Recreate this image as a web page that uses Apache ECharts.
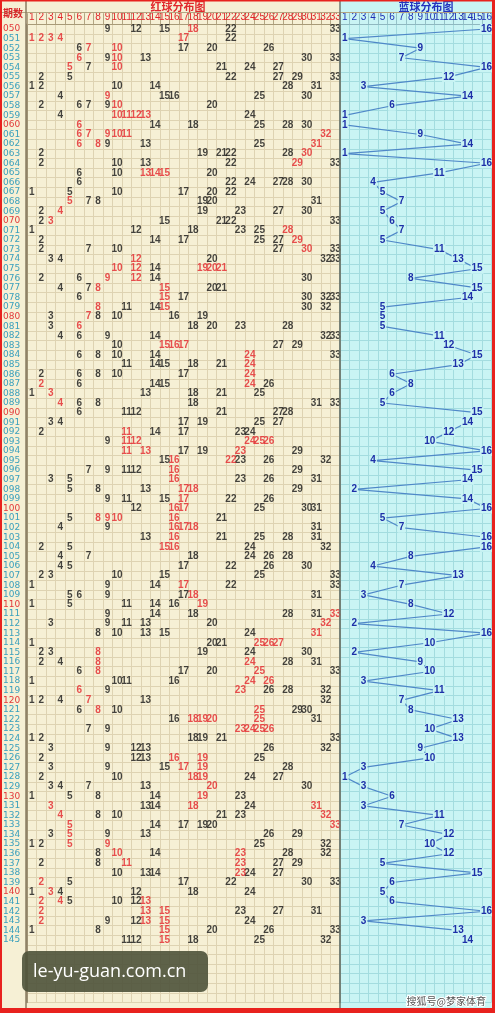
<!DOCTYPE html>
<html><head><meta charset="utf-8">
<script src="https://cdn.jsdelivr.net/npm/echarts@6/dist/echarts.min.js"></script>
<style>html,body{margin:0;padding:0;background:#f6f0d5}#c{width:495px;height:1013px}</style>
</head><body><div id="c"></div><script>
const periods = ['050','051','052','053','054','055','056','057','058','059','060','061','062','063','064','065','066','067','068','069','070','071','072','073','074','075','076','077','078','079','080','081','082','083','084','085','086','087','088','089','090','091','092','093','094','095','096','097','098','099','100','101','102','103','104','105','106','107','108','109','110','111','112','113','114','115','116','117','118','119','120','121','122','123','124','125','126','127','128','129','130','131','132','133','134','135','136','137','138','139','140','141','142','143','144','145'];
const redCols = ['1','2','3','4','5','6','7','8','9','10','11','12','13','14','15','16','17','18','19','20','21','22','23','24','25','26','27','28','29','30','31','32','33'];
const blueCols = ['1','2','3','4','5','6','7','8','9','10','11','12','13','14','15','16'];
const redBalls = [
[9,12,15,18,22,33],[1,2,3,4,17,22],[6,7,10,17,20,26],[6,9,10,13,30,33],[5,7,10,21,24,27],
[2,5,22,27,29,33],[1,2,10,14,28,31],[4,9,15,16,25,30],[2,6,7,9,10,20],[4,10,11,12,13,24],
[6,14,18,25,28,30],[6,7,9,10,11,32],[6,8,9,13,25,31],[2,19,21,22,28,30],[2,10,13,22,29,33],
[6,10,13,14,15,20],[6,22,24,27,28,30],[1,5,10,17,20,22],[5,7,8,19,20,31],[2,4,19,23,27,30],
[2,3,15,21,22,33],[1,12,18,23,25,28],[2,14,17,25,27,29],[2,7,10,27,30,33],[3,4,12,20,32,33],
[10,12,14,19,20,21],[2,6,9,12,14,30],[4,7,8,15,20,21],[6,15,17,30,32,33],[8,11,14,15,30,32],
[3,7,8,10,16,19],[3,6,18,20,23,28],[4,6,9,14,32,33],[10,15,16,17,27,29],[6,8,10,14,24,33],
[11,14,15,18,21,24],[2,6,8,10,17,24],[2,6,14,15,24,26],[1,3,13,18,21,25],[4,6,8,18,31,33],
[6,11,12,21,27,28],[3,4,17,19,25,27],[2,11,14,17,23,24],[9,11,12,24,25,26],[11,13,17,19,23,29],
[15,16,22,23,26,32],[7,9,11,12,16,29],[3,5,16,23,26,31],[5,8,13,17,18,29],[9,11,15,17,22,26],
[12,16,17,25,30,31],[5,8,9,10,16,21],[4,9,16,17,18,31],[13,16,21,25,28,31],[2,5,15,16,24,32],
[4,7,18,24,26,28],[4,5,17,22,26,30],[2,3,10,15,25,33],[1,9,14,17,22,33],[5,6,9,17,18,31],
[1,5,11,14,16,19],[9,14,18,28,31,33],[3,9,11,13,20,32],[8,10,13,15,24,31],[1,20,21,25,26,27],
[2,3,8,19,24,30],[2,4,8,24,28,31],[6,8,17,20,25,33],[1,10,11,16,24,26],[6,9,23,26,28,32],
[1,2,4,7,13,32],[6,8,10,25,29,30],[16,18,19,20,25,31],[7,9,23,24,25,26],[1,2,18,19,21,33],
[3,9,12,13,26,32],[2,12,13,16,19,25],[3,9,15,17,19,28],[2,10,18,19,24,27],[3,4,7,13,20,30],
[1,5,8,14,19,23],[3,13,14,18,24,31],[4,8,10,21,23,32],[5,14,17,19,20,33],[3,5,9,13,26,29],
[1,2,5,9,25,32],[8,10,14,23,28,32],[2,8,11,23,27,29],[10,13,14,23,24,27],[2,5,17,22,30,33],
[1,3,4,12,18,24],[2,4,5,10,12,13],[2,13,15,23,27,31],[2,9,12,13,15,24],[1,8,15,20,26,33],
[11,12,15,18,25,32]];
const redMarked = [
[18],[1,2,3,4,17],[7,10],[6,10],[5,10],
[],[],[9],[10],[10,11,12,13],
[6],[6,7,9,10,11,32],[6,8,31],[30],[29],
[13,14,15],[],[],[5],[4],
[3],[28],[29],[30],[12],
[10,12,19,20,21],[9,12],[8,15],[15],[8,15],
[7],[6],[],[15,16,17],[24],
[24],[24],[2,24],[3],[4],
[],[],[11],[11,12,24,25,26],[11,13,23],
[16,22],[16],[16],[17,18],[17],
[16,17],[8,9,10,16],[16,17,18],[16],[15,16],
[],[],[],[17],[18],
[19],[33],[32],[31],[25,26,27],
[8],[8,24],[8,25],[24,26],[6,23],
[7],[8,25],[18,19,20,25],[23,24,25,26],[],
[],[16,19],[17,19],[18,19],[20],
[19],[3,18,31],[4,32],[5,33],[5],
[5,9],[10,23],[11,23],[23],[2],
[3],[2,4,13],[2,13,15],[2,13,15],[15],
[15]];
const blueBalls = [16,1,9,7,16,12,3,14,6,1, 1,9,14,1,16,11,4,5,7,5, 6,7,5,11,13,15,8,15,14,5,
 5,5,11,12,15,13,6,8,6,5, 15,14,12,10,16,4,15,14,2,14, 16,5,7,16,16,8,4,13,7,3,
 8,12,2,16,10,2,9,10,3,11, 7,8,13,10,13,9,10,3,1,3, 6,3,11,7,12,10,12,5,15,6, 5,6,16,3,13,14];

const PAD = 6;
const rowCats = periods.slice();
for (let i = 0; i < PAD; i++) rowCats.push(' '.repeat(i + 1));
const ROWH = 9.59, TOP = 24.2;
const GH = rowCats.length * ROWH;

const blackPts = [], redPts = [];
redBalls.forEach((row, i) => row.forEach(n => {
  const it = { value: [n - 1, i], name: String(n) };
  (redMarked[i].indexOf(n) >= 0 ? redPts : blackPts).push(it);
}));
const bluePts = blueBalls.map((b, i) => ({ value: [b - 1, i], name: String(b) }));

const numFont = '"Liberation Sans Narrow", "Liberation Sans", Arial, sans-serif';
const scatterBase = (data, color) => ({
  type: 'scatter', xAxisIndex: 0, yAxisIndex: 0, data: data,
  symbolSize: 1, itemStyle: { color: 'rgba(0,0,0,0)' }, silent: true,
  label: { show: true, position: 'inside', formatter: '{b}', color: color, fontSize: 10,
    fontFamily: numFont, fontWeight: 'bold' },
  emphasis: { disabled: true }
});

const chart = echarts.init(document.getElementById('c'), null, { renderer: 'canvas' });
chart.setOption({
  animation: false,
  backgroundColor: '#f6f0d5',
  grid: [
    { left: 26.5, top: TOP, width: 313.5, height: GH, show: false },
    { left: 340, top: TOP, width: 153.5, height: GH, show: false }
  ],
  xAxis: [
    { type: 'category', gridIndex: 0, position: 'top', data: redCols, boundaryGap: true,
      axisLine: { show: true, lineStyle: { color: '#a89a78', width: 1 } },
      axisTick: { show: true, interval: 0, length: 11, lineStyle: { color: '#b3a582' } },
      axisLabel: { interval: 0, margin: 1.5, color: '#e2262a', fontSize: 10, fontFamily: numFont },
      splitLine: { show: true, interval: 0, lineStyle: { color: '#ded3b2', width: 1 } } },
    { type: 'category', gridIndex: 1, position: 'top', data: blueCols, boundaryGap: true,
      axisLine: { show: true, lineStyle: { color: '#8fb8c0', width: 1 } },
      axisTick: { show: true, interval: 0, length: 11, lineStyle: { color: '#94c2c8' } },
      axisLabel: { interval: 0, margin: 1.5, color: '#1e2fb4', fontSize: 10, fontFamily: numFont },
      splitLine: { show: true, interval: 0, lineStyle: { color: '#a3dcdf', width: 1 } } }
  ],
  yAxis: [
    { type: 'category', gridIndex: 0, data: rowCats, inverse: true, boundaryGap: true,
      axisLine: { show: true, lineStyle: { color: '#8a7c60', width: 1.5 } },
      axisTick: { show: false },
      axisLabel: { interval: 0, align: 'left', margin: 24, fontSize: 9, fontFamily: '"DejaVu Sans"',
        color: (v, i) => (i % 10 === 0 ? '#e23a3a' : '#3aa0bd') },
      splitLine: { show: true, interval: 0, lineStyle: { color: '#ded3b2', width: 1 } } },
    { type: 'category', gridIndex: 1, data: rowCats, inverse: true, boundaryGap: true,
      axisLine: { show: true, lineStyle: { color: '#6f7a70', width: 1.5 } },
      axisTick: { show: false }, axisLabel: { show: false },
      splitLine: { show: true, interval: 0, lineStyle: { color: '#a3dcdf', width: 1 } } }
  ],
  series: [
    scatterBase(blackPts, '#161616'),
    scatterBase(redPts, '#e3262b'),
    { type: 'line', xAxisIndex: 1, yAxisIndex: 1, data: bluePts, silent: true,
      symbol: 'circle', symbolSize: 1, itemStyle: { color: 'rgba(0,0,0,0)' },
      lineStyle: { color: '#4f88c8', width: 1.2 },
      label: { show: true, position: 'inside', formatter: '{b}', color: '#1d2fa8', fontSize: 10,
        fontFamily: numFont, fontWeight: 'bold', backgroundColor: '#c9f4f4', padding: [0, 1] },
      emphasis: { disabled: true }, z: 3 }
  ],
  graphic: [
    { type: 'rect', z: -10, shape: { x: 340, y: 0, width: 155, height: 1013 }, style: { fill: '#c9f4f4' } },
    { type: 'line', z: 5, shape: { x1: 0, y1: 12.5, x2: 495, y2: 12.5 }, style: { stroke: '#b3a582', lineWidth: 1 } },
    { type: 'line', z: 5, shape: { x1: 340, y1: 0, x2: 340, y2: 1008 }, style: { stroke: '#6f7a70', lineWidth: 1.5 } },
    { type: 'line', z: 5, shape: { x1: 26, y1: 0, x2: 26, y2: 1008 }, style: { stroke: '#8a7c60', lineWidth: 1.5 } },
    { type: 'text', z: 6, x: 13, y: 13, style: { text: '期数', fill: '#d8262a', font: 'bold 10px "Noto Sans CJK SC"', align: 'center', verticalAlign: 'middle' } },
    { type: 'text', z: 6, x: 178, y: 6.5, style: { text: '红球分布图', fill: '#e0282c', font: 'bold 11px "Noto Sans CJK SC"', align: 'center', verticalAlign: 'middle' } },
    { type: 'text', z: 6, x: 426, y: 6.5, style: { text: '蓝球分布图', fill: '#2233c0', font: 'bold 11px "Noto Sans CJK SC"', align: 'center', verticalAlign: 'middle' } },
    { type: 'rect', z: 20, shape: { x: 22, y: 951, width: 186, height: 41, r: 7 }, style: { fill: 'rgba(78,82,58,0.9)' } },
    { type: 'text', z: 21, x: 33, y: 971.5, style: { text: 'le-yu-guan.com.cn', fill: '#ffffff', font: '18px "Open Sans"', verticalAlign: 'middle' } },
    { type: 'text', z: 21, x: 486, y: 1001, style: { text: '搜狐号@梦家体育', fill: '#555555', stroke: '#ffffff', lineWidth: 2, font: '10px "Noto Sans CJK SC"', align: 'right', verticalAlign: 'middle' } },
    { type: 'rect', z: 30, shape: { x: 0, y: 1008, width: 495, height: 5 }, style: { fill: '#e8221e' } },
    { type: 'rect', z: 30, shape: { x: 0, y: 0, width: 2, height: 1013 }, style: { fill: '#e8221e' } },
    { type: 'rect', z: 30, shape: { x: 492, y: 0, width: 3, height: 1013 }, style: { fill: '#e8221e' } },
    { type: 'rect', z: 30, shape: { x: 0, y: 0, width: 495, height: 1.5 }, style: { fill: '#e8221e' } }
  ]
});
</script></body></html>
